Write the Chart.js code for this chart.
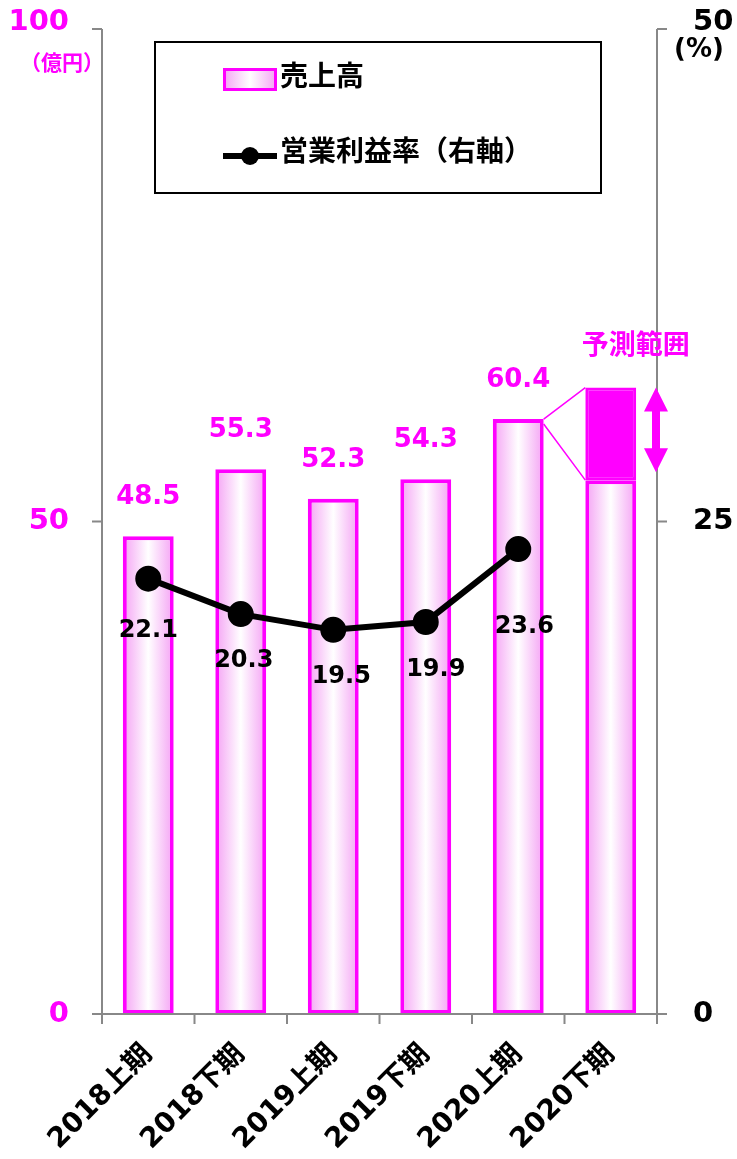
<!DOCTYPE html>
<html>
<head>
<meta charset="utf-8">
<script src="https://cdn.jsdelivr.net/npm/chart.js@4"></script>
<style>
  body { margin: 0; background: #fff; }
  #wrap { width: 737px; height: 1159px; }
</style>
</head>
<body>
<div id="wrap"><canvas id="salesChart" width="737" height="1159"></canvas></div>
<script>
// data
const categories = ['2018上期', '2018下期', '2019上期', '2019下期', '2020上期', '2020下期'];
const sales = [48.5, 55.3, 52.3, 54.3, 60.4, 54.2];
const forecastRange = [null, null, null, null, null, [54.2, 63.6]];
const margin = [22.1, 20.3, 19.5, 19.9, 23.6, null];
const leftTicks = [0, 50, 100];
const rightTicks = [0, 25, 50];

// small nudges for the margin labels (dx, dy below the point)
const marginLabelShift = [[0, 52], [3, 47], [8, 47], [10, 48], [6, 78]];

const MAGENTA = '#FF00FF';
const AXIS = '#888888';
const FONT = "'DejaVu Sans', 'Noto Sans CJK JP', sans-serif";
const BAR_PCT = 0.55;

function pinkGradient(c, x0, x1) {
  const g = c.createLinearGradient(x0, 0, x1, 0);
  g.addColorStop(0, '#F4A2F4');
  g.addColorStop(0.5, '#FFFFFF');
  g.addColorStop(1, '#F4A2F4');
  return g;
}

const extras = {
  id: 'extras',
  afterDatasetsDraw(chart) {
    const c = chart.ctx;
    const area = chart.chartArea;
    const xs = chart.scales.x, yl = chart.scales.y, yr = chart.scales.y1;
    const y0 = yl.getPixelForValue(0);
    c.save();

    // axes
    c.strokeStyle = AXIS;
    c.lineWidth = 2;
    c.beginPath();
    c.moveTo(area.left, yl.getPixelForValue(100));
    c.lineTo(area.left, y0);
    c.moveTo(area.right, yr.getPixelForValue(50));
    c.lineTo(area.right, y0);
    c.moveTo(area.left - 10, y0);
    c.lineTo(area.right + 10, y0);
    leftTicks.forEach(v => {
      const y = yl.getPixelForValue(v);
      c.moveTo(area.left - 10, y); c.lineTo(area.left, y);
    });
    rightTicks.forEach(v => {
      const y = yr.getPixelForValue(v);
      c.moveTo(area.right, y); c.lineTo(area.right + 10, y);
    });
    const step = (area.right - area.left) / categories.length;
    for (let i = 0; i <= categories.length; i++) {
      const x = area.left + i * step;
      c.moveTo(x, y0); c.lineTo(x, y0 + 10);
    }
    c.stroke();

    // tick labels
    c.font = 'bold 29px ' + FONT;
    c.textBaseline = 'middle';
    c.textAlign = 'right';
    c.fillStyle = MAGENTA;
    leftTicks.forEach(v => {
      let y = yl.getPixelForValue(v);
      if (v === 100) y -= 7;
      c.fillText(String(v), 69, y);
    });
    c.textAlign = 'left';
    c.fillStyle = '#000';
    rightTicks.forEach(v => {
      let y = yr.getPixelForValue(v);
      if (v === 50) y -= 7;
      c.fillText(String(v), 693, y);
    });
    c.textAlign = 'center';
    c.fillStyle = MAGENTA;
    c.font = 'bold 21px ' + FONT;
    c.fillText('（億円）', 62, 65);
    c.fillStyle = '#000';
    c.font = 'bold 26px ' + FONT;
    c.fillText('(%)', 699, 50);

    // category labels
    c.font = 'bold 28px ' + FONT;
    c.textAlign = 'right';
    categories.forEach((cat, i) => {
      const x = xs.getPixelForValue(i);
      c.save();
      c.translate(x, y0 + 36);
      c.rotate(-Math.PI / 4);
      c.fillText(cat, 0, 0);
      c.restore();
    });

    // sales labels
    const barMeta = chart.getDatasetMeta(0);
    c.fillStyle = MAGENTA;
    c.font = 'bold 26px ' + FONT;
    c.textAlign = 'center';
    barMeta.data.forEach((bar, i) => {
      if (forecastRange[i]) return;
      c.fillText(sales[i].toFixed(1), bar.x, bar.y - 39);
    });

    // margin labels
    const lineMeta = chart.getDatasetMeta(2);
    c.fillStyle = '#000';
    c.font = 'bold 24px ' + FONT;
    lineMeta.data.forEach((pt, i) => {
      if (margin[i] == null) return;
      const s = marginLabelShift[i];
      c.fillText(margin[i].toFixed(1), pt.x + s[0], pt.y + s[1]);
    });

    // forecast connector lines + arrow
    const fIdx = forecastRange.findIndex(r => r);
    const prev = barMeta.data[fIdx - 1];
    const rangeBar = chart.getDatasetMeta(1).data[fIdx];
    const half = rangeBar.width / 2;
    const yTop = yl.getPixelForValue(forecastRange[fIdx][1]);
    const yBot = yl.getPixelForValue(forecastRange[fIdx][0]);
    c.strokeStyle = MAGENTA;
    c.lineWidth = 1.5;
    c.beginPath();
    c.moveTo(prev.x + prev.width / 2, prev.y);
    c.lineTo(rangeBar.x - half, yTop);
    c.moveTo(prev.x + prev.width / 2, prev.y + 5);
    c.lineTo(rangeBar.x - half, yBot);
    c.stroke();

    const ax = area.right - 1;
    const aTop = yTop, aBot = yBot - 8, head = 24, hw = 12, sw = 4;
    c.fillStyle = MAGENTA;
    c.beginPath();
    c.moveTo(ax, aTop);
    c.lineTo(ax + hw, aTop + head);
    c.lineTo(ax + sw, aTop + head);
    c.lineTo(ax + sw, aBot - head);
    c.lineTo(ax + hw, aBot - head);
    c.lineTo(ax, aBot);
    c.lineTo(ax - hw, aBot - head);
    c.lineTo(ax - sw, aBot - head);
    c.lineTo(ax - sw, aTop + head);
    c.lineTo(ax - hw, aTop + head);
    c.closePath();
    c.fill();

    c.font = 'bold 27px ' + FONT;
    c.textAlign = 'center';
    c.fillText('予測範囲', rangeBar.x + 25, yTop - 41);

    // legend box
    c.strokeStyle = '#000';
    c.lineWidth = 2;
    c.strokeRect(155, 42, 446, 151);
    c.fillStyle = pinkGradient(c, 223, 277);
    c.fillRect(223, 68, 54, 23);
    c.strokeStyle = MAGENTA;
    c.lineWidth = 3;
    c.strokeRect(224.5, 69.5, 51, 20);
    c.strokeStyle = '#000';
    c.lineWidth = 6;
    c.beginPath();
    c.moveTo(223, 156); c.lineTo(277, 156);
    c.stroke();
    c.fillStyle = '#000';
    c.beginPath();
    c.arc(250, 156, 9, 0, Math.PI * 2);
    c.fill();
    c.font = 'bold 28px ' + FONT;
    c.textAlign = 'left';
    c.fillText('売上高', 280, 79);
    c.fillText('営業利益率（右軸）', 280, 154);

    c.restore();
  }
};

const ctx = document.getElementById('salesChart').getContext('2d');
new Chart(ctx, {
  data: {
    labels: categories,
    datasets: [
      {
        type: 'bar',
        label: '売上高',
        data: sales,
        yAxisID: 'y',
        grouped: false,
        order: 2,
        barPercentage: BAR_PCT,
        categoryPercentage: 1,
        borderColor: MAGENTA,
        borderWidth: 4,
        borderSkipped: false,
        backgroundColor: (context) => {
          const chart = context.chart;
          if (!chart.chartArea || context.dataIndex == null) return '#F4A2F4';
          const xs = chart.scales.x;
          const x = xs.getPixelForValue(context.dataIndex);
          const w = (chart.chartArea.width / categories.length) * BAR_PCT;
          return pinkGradient(chart.ctx, x - w / 2, x + w / 2);
        }
      },
      {
        type: 'bar',
        label: '予測範囲',
        data: forecastRange,
        yAxisID: 'y',
        grouped: false,
        order: 1,
        barPercentage: BAR_PCT,
        categoryPercentage: 1,
        backgroundColor: MAGENTA,
        borderColor: MAGENTA,
        borderWidth: 3,
        borderSkipped: false
      },
      {
        type: 'line',
        label: '営業利益率（右軸）',
        data: margin,
        yAxisID: 'y1',
        order: 0,
        borderColor: '#000',
        borderWidth: 6,
        pointRadius: 10,
        pointBackgroundColor: '#000',
        pointBorderColor: '#000',
        tension: 0
      }
    ]
  },
  options: {
    responsive: false,
    animation: false,
    layout: { padding: { left: 102, right: 80, top: 29, bottom: 145 } },
    plugins: { legend: { display: false }, tooltip: { enabled: false } },
    scales: {
      x: { display: false },
      y: { display: false, min: 0, max: 100 },
      y1: { display: false, position: 'right', min: 0, max: 50 }
    }
  },
  plugins: [extras]
});
</script>
</body>
</html>
